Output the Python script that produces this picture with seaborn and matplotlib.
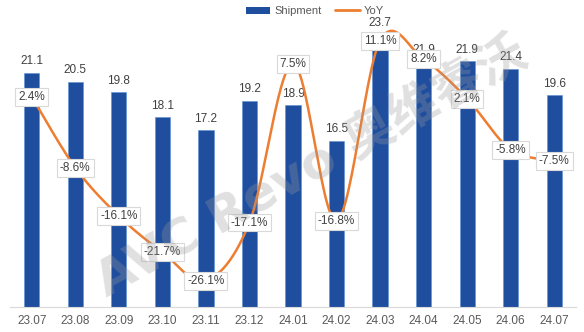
import numpy as np
import pandas as pd
import matplotlib
matplotlib.use("Agg")
import matplotlib.pyplot as plt
import seaborn as sns
from matplotlib.lines import Line2D
from matplotlib.patches import Patch

months = ["23.07", "23.08", "23.09", "23.10", "23.11", "23.12",
          "24.01", "24.02", "24.03", "24.04", "24.05", "24.06", "24.07"]
shipment = [21.1, 20.5, 19.8, 18.1, 17.2, 19.2, 18.9, 16.5, 23.7, 21.9, 21.9, 21.4, 19.6]
yoy = [2.4, -8.6, -16.1, -21.7, -26.1, -17.1, 7.5, -16.8, 11.1, 8.2, 2.1, -5.8, -7.5]

BAR_BLUE = "#1F4E9F"
LINE_ORANGE = "#ED7D31"
TEXT_DARK = "#404040"
TEXT_TICK = "#595959"

sns.set_theme(style="white")
plt.rcParams["font.family"] = ["Liberation Sans", "DejaVu Sans", "Noto Sans CJK SC"]

fig = plt.figure(figsize=(5.84, 3.32), dpi=100)
ax = fig.add_axes([10 / 584, 25 / 332, 566 / 584, 287 / 332])

df = pd.DataFrame({"month": months, "shipment": shipment})
sns.barplot(data=df, x="month", y="shipment", color=BAR_BLUE, width=0.35,
            saturation=1, ax=ax, edgecolor="#5B8FD6", linewidth=0.4, zorder=2)
ax.set_xlim(-0.5, len(months) - 0.5)
ax.set_ylim(5.2, 24.7)
ax.bar_label(ax.containers[0], labels=[f"{v:.1f}" for v in shipment],
             padding=4, fontsize=8.5, color=TEXT_DARK, zorder=3)

ax.set_xlabel("")
ax.set_ylabel("")
ax.set_yticks([])
ax.tick_params(axis="x", length=0, pad=6, labelsize=8.5, labelcolor=TEXT_TICK)
for side in ["left", "right", "top"]:
    ax.spines[side].set_visible(False)
ax.spines["bottom"].set_color("#D9D9D9")
ax.spines["bottom"].set_linewidth(0.8)

# Secondary axis for YoY growth with a smoothed (Bezier) line
ax2 = ax.twinx()
ax2.set_ylim(-30.2, 14.3)
ax2.set_yticks([])
for side in ["left", "right", "top", "bottom"]:
    ax2.spines[side].set_visible(False)

xs = np.arange(len(yoy), dtype=float)
ys = np.array(yoy, dtype=float)
curve_x, curve_y = [], []
t = np.linspace(0, 1, 30)
for i in range(len(xs) - 1):
    p0 = np.array([xs[max(i - 1, 0)], ys[max(i - 1, 0)]])
    p1 = np.array([xs[i], ys[i]])
    p2 = np.array([xs[i + 1], ys[i + 1]])
    p3 = np.array([xs[min(i + 2, len(xs) - 1)], ys[min(i + 2, len(xs) - 1)]])
    c1 = p1 + (p2 - p0) / 6
    c2 = p2 - (p3 - p1) / 6
    seg = ((1 - t)[:, None] ** 3 * p1 + 3 * ((1 - t) ** 2 * t)[:, None] * c1
           + 3 * ((1 - t) * t ** 2)[:, None] * c2 + (t ** 3)[:, None] * p2)
    curve_x.extend(seg[:, 0])
    curve_y.extend(seg[:, 1])
ax2.plot(curve_x, curve_y, color=LINE_ORANGE, linewidth=1.8, zorder=4,
         solid_capstyle="round")

for xi, v in zip(xs, yoy):
    ax2.text(xi, v, f"{v:.1f}%", ha="center", va="center", fontsize=8.5,
             color=TEXT_DARK, zorder=6,
             bbox=dict(boxstyle="square,pad=0.25", facecolor="white",
                       edgecolor="#D9D9D9", linewidth=0.8))

# Watermark
fig.text(312 / 584, 1 - 168 / 332, "AVC Revo 奥维睿沃", rotation=29, fontsize=36,
         fontweight="bold", color="#9A9A9A", alpha=0.3, ha="center",
         va="center", zorder=10,
         family=["DejaVu Sans", "Noto Sans CJK SC"])

handles = [Patch(facecolor=BAR_BLUE, edgecolor="none"),
           Line2D([0], [0], color=LINE_ORANGE, linewidth=2)]
fig.legend(handles, ["Shipment", "YoY"], loc="center", ncol=2,
           bbox_to_anchor=(315 / 584, 1 - 11 / 332), frameon=False,
           fontsize=8, labelcolor=TEXT_TICK, handlelength=2.2,
           handleheight=0.6, columnspacing=1.2, handletextpad=0.4)

fig.savefig("out.png", dpi=100)
